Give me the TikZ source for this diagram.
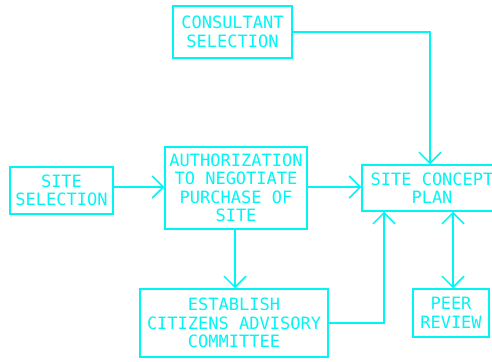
\documentclass[tikz,border=0pt]{standalone}
\usepackage{fontspec}
\setmonofont{DejaVu Sans Mono}
\usetikzlibrary{arrows.meta}
\definecolor{cy}{RGB}{0,245,245}
\begin{document}
\begin{tikzpicture}[x=1pt,y=-1pt,
  box/.style={draw=cy,line width=1.5pt,text=cy,align=center,inner sep=0pt,
    font=\ttfamily\fontsize{17}{18.5}\selectfont},
  conn/.style={draw=cy,line width=1.5pt,-{Straight Barb[length=11pt,width=22pt,line width=1.5pt]}},
  conn2/.style={draw=cy,line width=1.5pt,{Straight Barb[length=11pt,width=22pt,line width=1.5pt]}-{Straight Barb[length=11pt,width=22pt,line width=1.5pt]}}]
\useasboundingbox (0,0) rectangle (492,361);
\node[box,minimum width=119pt,minimum height=52pt] (cons) at (232.5,32) {CONSULTANT\\SELECTION};
\node[box,minimum width=103pt,minimum height=47pt] (ss) at (61.5,190.5) {SITE\\SELECTION};
\node[box,minimum width=142pt,minimum height=82pt] (auth) at (236,188) {AUTHORIZATION\\TO NEGOTIATE\\PURCHASE OF\\SITE};
\node[box,minimum width=140pt,minimum height=46pt] (sc) at (432,188) {SITE CONCEPT\\PLAN};
\node[box,minimum width=76pt,minimum height=48pt] (peer) at (451,313) {PEER\\REVIEW};
\node[box,minimum width=188pt,minimum height=68pt] (est) at (234,323) {ESTABLISH\\CITIZENS ADVISORY\\COMMITTEE};
\coordinate (scTop) at ([xshift=-2pt]sc.north);
\coordinate (scB1) at ([xshift=-48pt]sc.south);
\coordinate (scB2) at ([xshift=21pt]sc.south);
\coordinate (authB) at ([xshift=-1pt]auth.south);
\draw[conn] (cons.east) -| (scTop);
\draw[conn] (ss.east |- 0,187) -- (auth.west |- 0,187);
\draw[conn] (auth.east |- 0,187) -- (sc.west |- 0,187);
\draw[conn] (authB) -- (authB |- est.north);
\draw[conn] (est.east) -| (scB1);
\draw[conn2] (scB2) -- (scB2 |- peer.north);
\end{tikzpicture}
\end{document}
